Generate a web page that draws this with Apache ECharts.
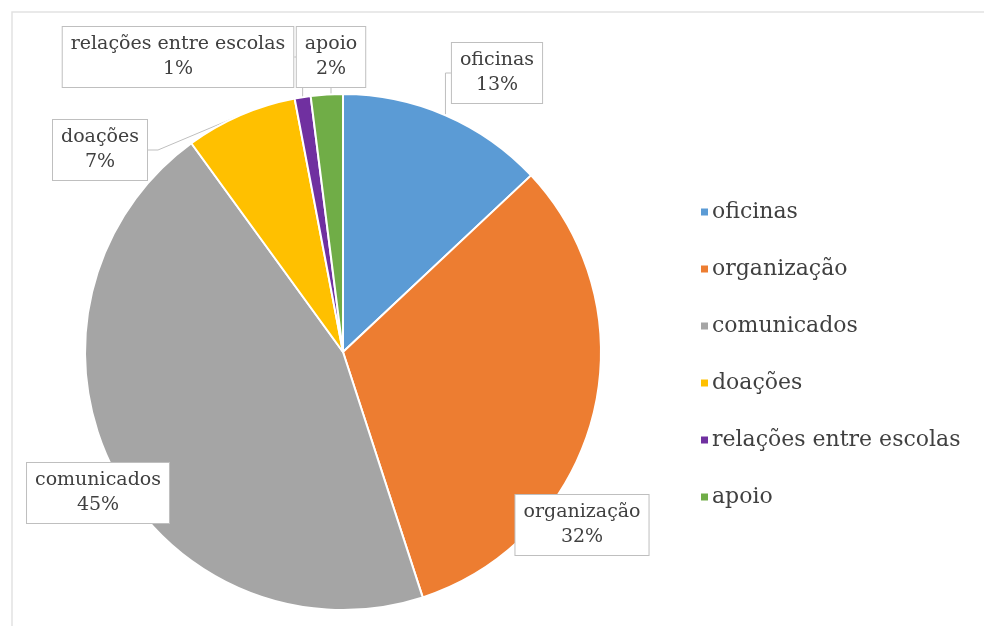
<!DOCTYPE html>
<html>
<head>
<meta charset="utf-8">
<script src="https://cdn.jsdelivr.net/npm/echarts@6/dist/echarts.min.js"></script>
<style>
html,body{margin:0;padding:0;background:#fff;}
#chart{width:984px;height:626px;}
</style>
</head>
<body>
<div id="chart"></div>
<script>
var categories = ['oficinas', 'organização', 'comunicados', 'doações', 'relações entre escolas', 'apoio'];
var values = [13, 32, 45, 7, 1, 2];
var colors = ['#5B9BD5', '#ED7D31', '#A5A5A5', '#FFC000', '#7030A0', '#70AD47'];
// label box centres (layout only)
var labelPos = [[497, 73], [582, 525], [98, 493], [100, 150], [178, 57], [331, 57]];
var showLine = [true, false, false, true, true, true];

var FONT = '"DejaVu Serif", "Liberation Serif", serif';
var chart = echarts.init(document.getElementById('chart'));

var data = categories.map(function (c, i) {
  return {
    name: c,
    value: values[i],
    itemStyle: { color: colors[i] },
    labelLine: { show: showLine[i] }
  };
});

chart.setOption({
  animation: false,
  graphic: [{
    type: 'rect',
    shape: { x: 12, y: 12, width: 1000, height: 640 },
    style: { fill: 'none', stroke: '#e2e2e2', lineWidth: 1.5 },
    silent: true
  }],
  legend: {
    orient: 'vertical',
    left: 694,
    top: 196,
    itemWidth: 9,
    itemHeight: 9,
    itemGap: 35,
    icon: 'rect',
    textStyle: { fontFamily: FONT, fontSize: 22, color: '#404040', lineHeight: 22, padding: [0, 0, 0, -2] },
    data: categories
  },
  series: [{
    type: 'pie',
    center: [343, 352],
    radius: [0, 258],
    startAngle: 90,
    clockwise: true,
    avoidLabelOverlap: false,
    itemStyle: { borderColor: '#ffffff', borderWidth: 2 },
    label: {
      show: true,
      position: 'outside',
      formatter: '{b}\n{d}%',
      fontFamily: FONT,
      fontSize: 19,
      lineHeight: 25,
      color: '#404040',
      align: 'center',
      backgroundColor: '#ffffff',
      borderColor: '#bfbfbf',
      borderWidth: 1,
      padding: [5, 8]
    },
    labelLine: {
      show: true,
      length: 10,
      length2: 10,
      lineStyle: { color: '#bfbfbf', width: 1 }
    },
    labelLayout: function (p) {
      var pos = labelPos[p.dataIndex];
      return { x: pos[0], y: pos[1], align: 'center', verticalAlign: 'middle' };
    },
    emphasis: { disabled: true },
    data: data
  }]
});
</script>
</body>
</html>
